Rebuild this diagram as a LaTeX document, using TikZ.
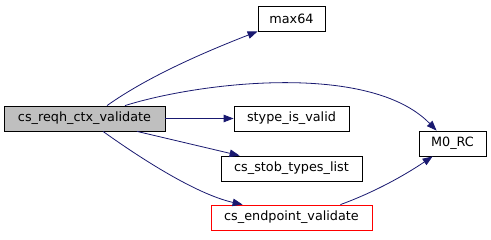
\documentclass[tikz,border=0pt]{standalone}
\usepackage{fontspec}
\setmainfont{DejaVu Sans}
\usetikzlibrary{arrows.meta}

\definecolor{callblue}{RGB}{25,25,112}
\tikzset{
  fn/.style={draw=black,fill=white,inner sep=0pt,minimum height=25pt,
    line width=0.8pt,font=\fontsize{12.8}{14}\selectfont},
  edge/.style={draw=callblue,line width=0.8pt,
    -{Triangle[length=10pt,width=7.5pt,fill=callblue]}}
}

\begin{document}
\begin{tikzpicture}[x=1pt,y=-1pt]
      \useasboundingbox(0,0)rectangle(491,240);
      % caller
      \node[fn,fill=black!25,minimum width=161pt](main)at(84.5,118.5){cs\_reqh\_ctx\_validate};
      % callees
      \node[fn,minimum width=67pt](max)at(291.5,18.5){max64};
      \node[fn,minimum width=115pt](stype)at(291.5,118.5){stype\_is\_valid};
      \node[fn,minimum width=141pt](stob)at(291.5,168.5){cs\_stob\_types\_list};
      \node[fn,draw=red,minimum width=161pt](endp)at(291.5,217.5){cs\_endpoint\_validate};
      \node[fn,minimum width=67pt](rc)at(452.5,143.5){M0\_RC};
      % end points on the borders
      \coordinate(a)at([xshift=22.5pt]main.north);
      \coordinate(b)at([xshift=40.5pt]main.north);
      \coordinate(c)at([xshift=52.5pt]main.south);
      \coordinate(d)at([xshift=18.5pt]main.south);
      \coordinate(e)at([xshift=-32pt]endp.north east);
      \coordinate(rc1)at([xshift=18pt]rc.north west);
      \coordinate(rc2)at([xshift=14pt]rc.south west);
      \coordinate(st)at([xshift=19pt]stob.north west);
      \coordinate(ep)at([xshift=32pt]endp.north west);
      % calls
      \draw[edge](a).. controls(150,75)and(210,50)..(max.south west);
      \draw[edge](b).. controls(200,82)and(370,62)..(rc1);
      \draw[edge](main)--(stype);
      \draw[edge](c)--(st);
      \draw[edge](d).. controls(150,165)and(200,195)..(ep);
      \draw[edge](e).. controls(375,192)and(405,175)..(rc2);
\end{tikzpicture}
\end{document}
